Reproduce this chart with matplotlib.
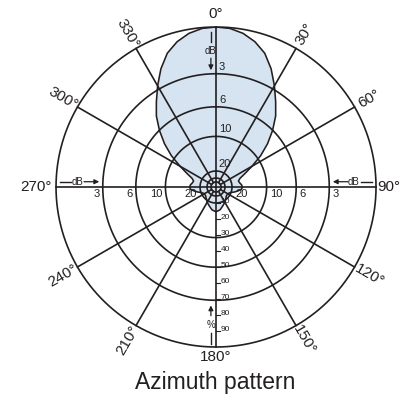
import numpy as np
import matplotlib.pyplot as plt

plt.rcParams['font.family'] = ['Liberation Sans', 'DejaVu Sans']

# --- Dades del diagrama (nivell relatiu de camp, 1 = 0 dB) ---
angles = [0, 5, 10, 15, 20, 25, 30, 35, 40, 45, 50, 55, 60, 65, 70, 75, 80, 85, 90,
          95, 100, 105, 110, 115, 120, 130, 140, 150, 160, 170, 180]
level = [1.0, 0.995, 0.975, 0.94, 0.89, 0.815, 0.73, 0.65, 0.58, 0.50, 0.42, 0.34, 0.26,
         0.20, 0.16, 0.145, 0.15, 0.16, 0.165, 0.16, 0.14, 0.12, 0.10, 0.09, 0.085,
         0.085, 0.095, 0.11, 0.125, 0.145, 0.155]

db_rings = [3, 6, 10, 20]
inner_rings = [25, 30]
pct_ticks = [10, 20, 30, 40, 50, 60, 70, 80, 90]
angle_ticks = list(range(0, 360, 30))

ink = '#231f20'
fill_col = '#d6e4f1'

# diagrama simètric
th_deg = angles + [360 - a for a in angles[-2:0:-1]] + [360]
rr = level + level[-2:0:-1] + [level[0]]
th = np.radians(th_deg)

fig = plt.figure(figsize=(4.01, 4.0), dpi=100)
rect = [0.1397, 0.1325, 0.798, 0.8]
ax = fig.add_axes(rect, projection='polar')
ax.set_theta_zero_location('N')
ax.set_theta_direction(-1)
ax.set_ylim(0, 1)
ax.grid(False)
ax.set_xticks([])
ax.set_yticks([])
ax.spines['polar'].set_visible(False)
ax.patch.set_visible(False)

# lòbul
ax.fill(th, rr, color=fill_col, zorder=1, lw=0)
ax.plot(th, rr, color=ink, lw=1.15, zorder=3, solid_joinstyle='round')

# cercles
circ = np.linspace(0, 2 * np.pi, 721)
for r in [1.0] + [10 ** (-d / 20) for d in db_rings + inner_rings]:
    ax.plot(circ, np.full_like(circ, r), color=ink, lw=1.2, zorder=2, clip_on=False)

# radis
for a in angle_ticks:
    r0 = 0 if a % 90 == 0 else 10 ** (-30 / 20)
    ax.plot([np.radians(a)] * 2, [r0, 1], color=ink, lw=1.2, zorder=2, clip_on=False)

# --- Textos en eixos cartesians superposats ---
ov = fig.add_axes(rect)
ov.set_xlim(-1, 1)
ov.set_ylim(-1, 1)
ov.axis('off')
ov.patch.set_facecolor('none')

for a in angle_ticks:
    phi = np.radians(90 - a)
    lab = f'{a}°'
    if a == 0:
        ov.text(0, 1.035, lab, ha='center', va='bottom', fontsize=11, color=ink)
    elif a == 90:
        ov.text(1.008, 0, lab, ha='left', va='center', fontsize=11, color=ink)
    elif a == 180:
        ov.text(0, -1.02, lab, ha='center', va='top', fontsize=11, color=ink)
    elif a == 270:
        ov.text(-1.025, 0, lab, ha='right', va='center', fontsize=11, color=ink)
    else:
        rot = 90 - a
        while rot > 90:
            rot -= 180
        while rot <= -90:
            rot += 180
        ov.text(1.105 * np.cos(phi), 1.105 * np.sin(phi), lab, ha='center', va='center',
                rotation=rot, rotation_mode='anchor', fontsize=11, color=ink)

# escala dB
for d in db_rings:
    r = 10 ** (-d / 20)
    ov.text(0.018, r + 0.012, str(d), ha='left', va='bottom', fontsize=8, color=ink)
    ov.text(r + 0.02, -0.015, str(d), ha='left', va='top', fontsize=8, color=ink)
    ov.text(-r - 0.02, -0.015, str(d), ha='right', va='top', fontsize=8, color=ink)

# escala %
for p in pct_ticks:
    y = -p / 100
    ov.plot([0, 0.022], [y, y], color=ink, lw=0.8)
    ov.text(0.028, y + 0.012, str(p), ha='left', va='center', fontsize=6, color=ink)

aprops = dict(arrowstyle='-|>', color=ink, lw=0.9, mutation_scale=7, shrinkA=0, shrinkB=0)
# dalt
ov.plot([-0.032, -0.032], [0.97, 0.905], color=ink, lw=1.0)
ov.text(-0.032, 0.847, 'dB', ha='center', va='center', fontsize=7, color=ink)
ov.annotate('', xy=(-0.032, 0.73), xytext=(-0.032, 0.805), arrowprops=aprops)
# esquerra
ov.plot([-0.975, -0.905], [0.033, 0.033], color=ink, lw=1.0)
ov.text(-0.866, 0.033, 'dB', ha='center', va='center', fontsize=7, color=ink)
ov.annotate('', xy=(-0.73, 0.033), xytext=(-0.825, 0.033), arrowprops=aprops)
# dreta
ov.plot([0.905, 0.975], [0.033, 0.033], color=ink, lw=1.0)
ov.text(0.862, 0.033, 'dB', ha='center', va='center', fontsize=7, color=ink)
ov.annotate('', xy=(0.73, 0.033), xytext=(0.825, 0.033), arrowprops=aprops)
# baix
ov.annotate('', xy=(-0.032, -0.74), xytext=(-0.032, -0.805), arrowprops=aprops)
ov.text(-0.032, -0.862, '%', ha='center', va='center', fontsize=7, color=ink)
ov.plot([-0.032, -0.032], [-0.912, -0.98], color=ink, lw=1.0)

fig.text(0.537, 0.045, 'Azimuth pattern', ha='center', va='center', fontsize=16.5, color=ink)

fig.savefig('out.png', dpi=100)
